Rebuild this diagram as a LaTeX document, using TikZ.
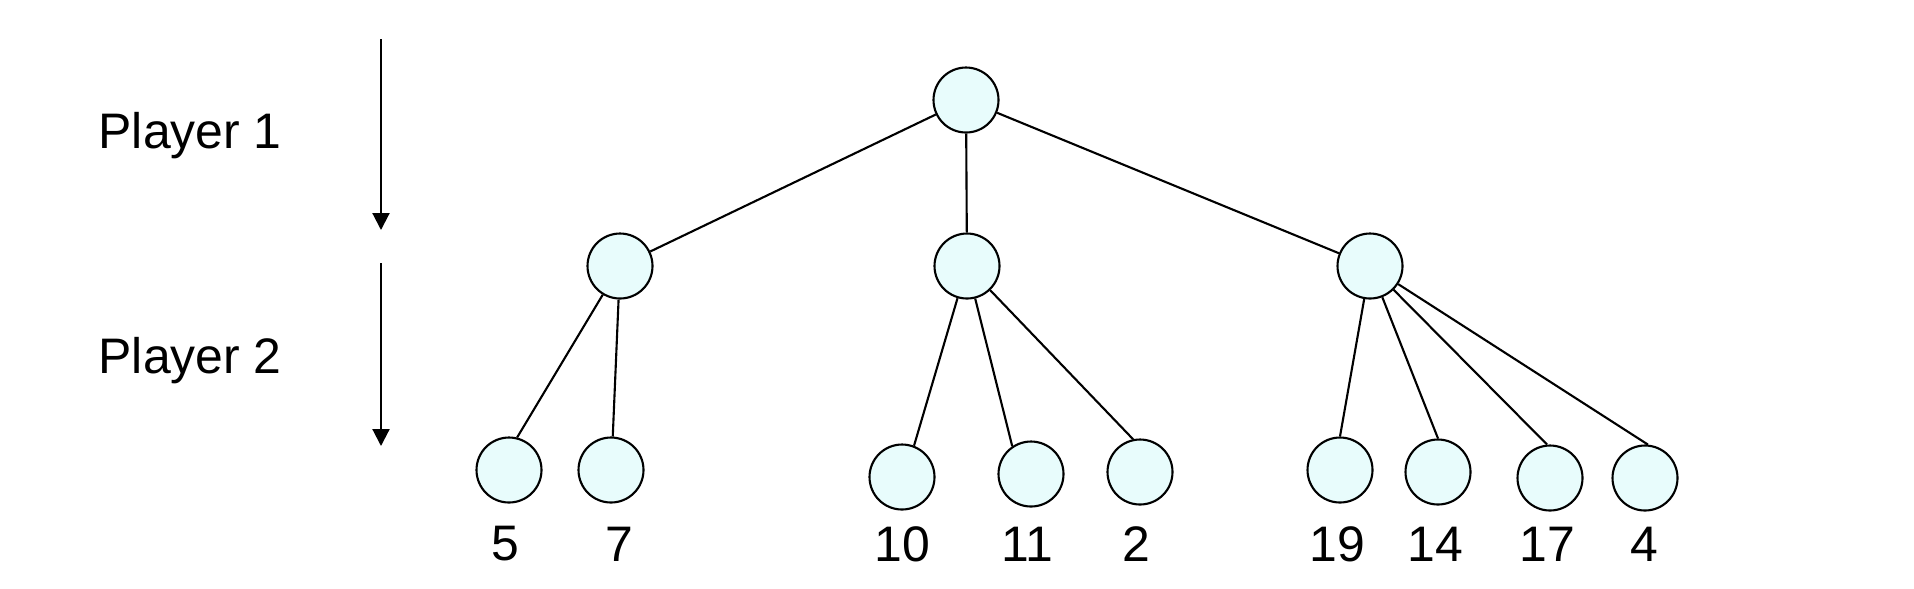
\documentclass[tikz,border=0pt]{standalone}
\usepackage{fontspec}
\setmainfont{Liberation Sans}
\usetikzlibrary{arrows.meta}
\definecolor{nodefill}{RGB}{232,252,252}
\begin{document}
\begin{tikzpicture}
        [node_style/.style={circle,draw=black,line width=0.6pt,fill=nodefill,minimum size=0.65cm,inner sep=0pt},
         edge_style/.style={draw=black,line width=0.6pt},
         arrow_style/.style={draw=black,line width=0.6pt,-{Triangle[length=0.17cm,width=0.17cm]}},
         label_style/.style={font=\fontsize{14.2pt}{17pt}\selectfont,inner sep=0pt}]
            \useasboundingbox (0,0) rectangle (19.14,-5.88);
            % player rows
            \node[label_style,anchor=west] (p1) at (0.98,-1.36) {Player 1};
            \node[label_style,anchor=west] (p2) at (0.98,-3.61) {Player 2};
            \coordinate (a1s) at (3.81,-0.39);
            \coordinate (a1e) at (3.81,-2.30);
            \coordinate (a2s) at (3.81,-2.63);
            \coordinate (a2e) at (3.81,-4.46);
            \draw[arrow_style] (a1s) -- (a1e);
            \draw[arrow_style] (a2s) -- (a2e);
            % tree
            \node[node_style] (v0) at (9.66,-1.00) {};
            \node[node_style] (v1) at (6.20,-2.66) {};
            \node[node_style] (v2) at (9.67,-2.66) {};
            \node[node_style] (v3) at (13.70,-2.66) {};
            \node[node_style] (v4) at (5.09,-4.70) {};
            \node[node_style] (v5) at (6.11,-4.70) {};
            \node[node_style] (v6) at (9.02,-4.77) {};
            \node[node_style] (v7) at (10.31,-4.74) {};
            \node[node_style] (v8) at (11.40,-4.72) {};
            \node[node_style] (v9) at (13.40,-4.70) {};
            \node[node_style] (v10) at (14.38,-4.72) {};
            \node[node_style] (v11) at (15.50,-4.78) {};
            \node[node_style] (v12) at (16.45,-4.78) {};
            \draw[edge_style]  (v0) -- (v1);
            \draw[edge_style]  (v0) -- (v2);
            \draw[edge_style]  (v0) -- (v3);
            \draw[edge_style]  (v1) -- (v4.76);
            \draw[edge_style]  (v1) -- (v5.87);
            \draw[edge_style]  (v2) -- (v6.69);
            \draw[edge_style]  (v2) -- (v7.124);
            \draw[edge_style]  (v2) -- (v8.102);
            \draw[edge_style]  (v3) -- (v9.north);
            \draw[edge_style]  (v3) -- (v10.north);
            \draw[edge_style]  (v3) -- (v11.95);
            \draw[edge_style]  (v3) -- (v12.85);
            % payoffs
            \node[label_style] (l4) at (5.05,-5.44) {5};
            \node[label_style] (l5) at (6.19,-5.44) {7};
            \node[label_style] (l6) at (9.02,-5.44) {10};
            \node[label_style] (l7) at (10.27,-5.44) {11};
            \node[label_style] (l8) at (11.36,-5.44) {2};
            \node[label_style] (l9) at (13.37,-5.44) {19};
            \node[label_style] (l10) at (14.35,-5.44) {14};
            \node[label_style] (l11) at (15.47,-5.44) {17};
            \node[label_style] (l12) at (16.44,-5.44) {4};
        \end{tikzpicture}
\end{document}
